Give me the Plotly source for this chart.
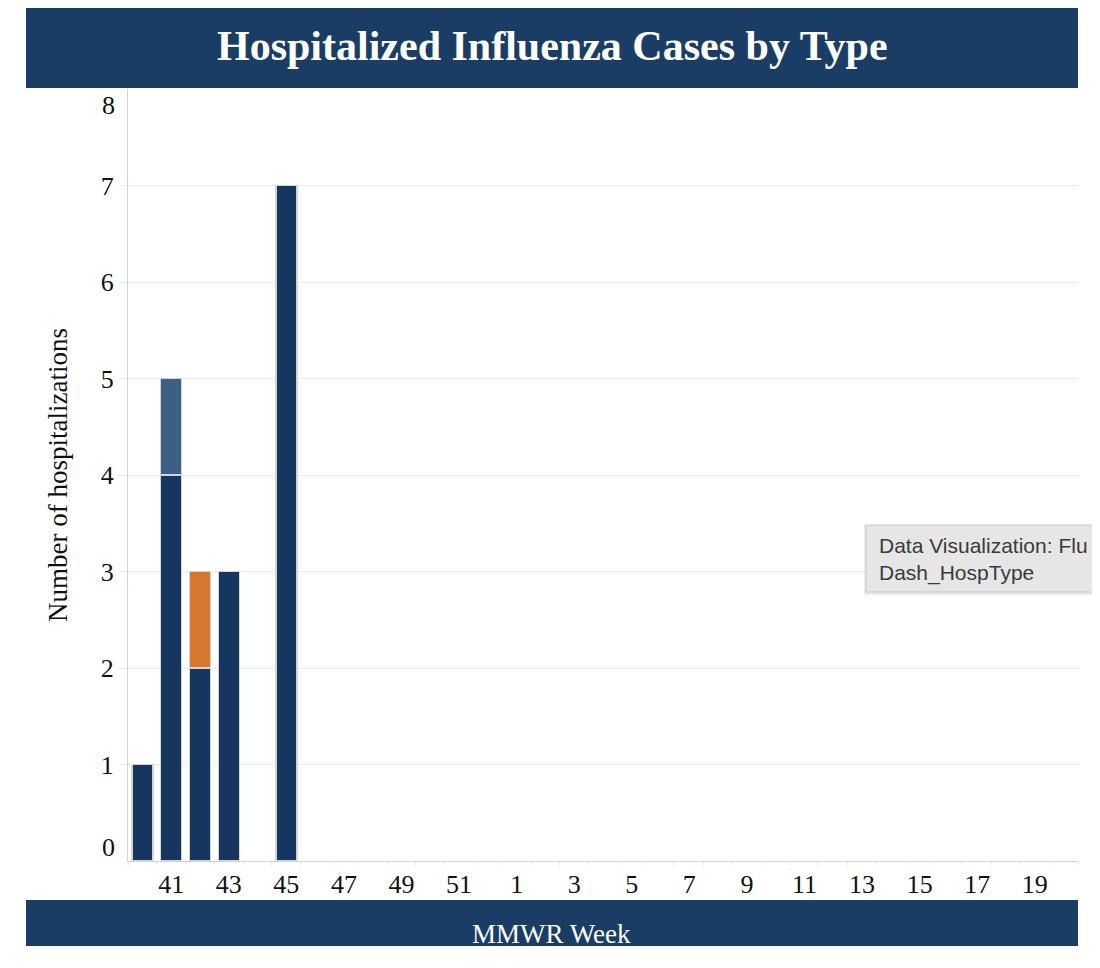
import plotly.graph_objects as go

# MMWR weeks of the season (40..52, then 1..20)
weeks = ["40", "41", "42", "43", "44", "45", "46", "47", "48", "49", "50", "51", "52",
         "1", "2", "3", "4", "5", "6", "7", "8", "9", "10", "11", "12", "13", "14",
         "15", "16", "17", "18", "19", "20"]
week_labels = ["", "41", "", "43", "", "45", "", "47", "", "49", "", "51", "",
               "1", "", "3", "", "5", "", "7", "", "9", "", "11", "", "13", "",
               "15", "", "17", "", "19", ""]

flu_a = [1, 4, 2, 3, None, 7, None, None, None, None, None, None, None,
         None, None, None, None, None, None, None, None, None, None, None, None, None, None,
         None, None, None, None, None, None]
flu_a_subtyped = [None, 1, None, None, None, None, None, None, None, None, None, None, None,
                  None, None, None, None, None, None, None, None, None, None, None, None, None, None,
                  None, None, None, None, None, None]
flu_b = [None, None, 1, None, None, None, None, None, None, None, None, None, None,
         None, None, None, None, None, None, None, None, None, None, None, None, None, None,
         None, None, None, None, None, None]

y_ticks = [1, 2, 3, 4, 5, 6, 7]

NAVY = "#1a3d66"
SERIF = "Liberation Serif, Times New Roman, serif"
TXT = "#111111"

W, H = 1084, 952
L, R, T, B = 120, 1070, 81, 853


def px(x):
    return (x - L) / (R - L)


def py(y):
    return (B - y) / (B - T)


fig = go.Figure()
outline = dict(color="#d4d4d4", width=1.5)
fig.add_trace(go.Bar(x=weeks, y=flu_a, name="Influenza A",
                     marker=dict(color="#16365f", line=outline)))
fig.add_trace(go.Bar(x=weeks, y=flu_a_subtyped, name="Influenza A (subtyped)",
                     marker=dict(color="#3e5f85", line=outline)))
fig.add_trace(go.Bar(x=weeks, y=flu_b, name="Influenza B",
                     marker=dict(color="#d8782f", line=outline)))

shapes = [
    # title band
    dict(type="rect", xref="paper", yref="paper", x0=px(18), x1=px(1070),
         y0=py(80), y1=py(0), fillcolor=NAVY, line_width=0, layer="above"),
    # bottom band
    dict(type="rect", xref="paper", yref="paper", x0=px(18), x1=px(1070),
         y0=py(938), y1=py(892), fillcolor=NAVY, line_width=0, layer="above"),
    # tooltip shadow + box
    dict(type="rect", xref="paper", yref="paper", x0=px(856), x1=px(1110),
         y0=py(587), y1=py(517), fillcolor="rgba(0,0,0,0.08)", line_width=0, layer="above"),
    dict(type="rect", xref="paper", yref="paper", x0=px(858), x1=px(1110),
         y0=py(584), y1=py(517), fillcolor="#e6e6e6",
         line=dict(color="#c9c9c9", width=1), layer="above"),
]

annotations = [
    dict(text="<b>Hospitalized Influenza Cases by Type</b>", xref="paper", yref="paper",
         x=px(544), y=py(38), showarrow=False, xanchor="center", yanchor="middle",
         font=dict(family=SERIF, size=42, color="white")),
    dict(text="MMWR Week", xref="paper", yref="paper",
         x=px(543), y=py(926), showarrow=False, xanchor="center", yanchor="middle",
         font=dict(family=SERIF, size=27, color="white")),
    dict(text="Number of hospitalizations", xref="paper", yref="paper",
         x=px(50), y=0.5, showarrow=False, textangle=-90,
         xanchor="center", yanchor="middle",
         font=dict(family=SERIF, size=27, color=TXT)),
    # end labels of the value axis, nudged inside like the original
    dict(text="0", xref="paper", yref="y", x=px(109), y=0, yshift=14,
         showarrow=False, xanchor="right", yanchor="middle",
         font=dict(family=SERIF, size=26, color=TXT)),
    dict(text="8", xref="paper", yref="y", x=px(109), y=8, yshift=-16,
         showarrow=False, xanchor="right", yanchor="middle",
         font=dict(family=SERIF, size=26, color=TXT)),
    dict(text="Data Visualization: Flu<br>Dash_HospType", xref="paper", yref="paper",
         x=px(869), y=py(551), showarrow=False, xanchor="left", yanchor="middle",
         align="left", font=dict(family="Liberation Sans, Arial, sans-serif", size=21,
                                 color="#3a3a3a")),
]

fig.update_layout(
    width=W, height=H,
    margin=dict(l=L, r=W - R, t=T, b=H - B),
    barmode="stack", bargap=0.27,
    plot_bgcolor="white", paper_bgcolor="white",
    showlegend=False,
    shapes=shapes, annotations=annotations,
    font=dict(family=SERIF, size=26, color=TXT),
    xaxis=dict(type="category", categoryorder="array", categoryarray=weeks,
               tickmode="array", tickvals=weeks, ticktext=week_labels, tickangle=0,
               tickson="boundaries", ticks="outside", ticklen=3, tickcolor="#e6e6e6",
               showline=True, linecolor="#d4d4d4", linewidth=1, showgrid=False,
               range=[-0.5, len(weeks) - 0.5],
               tickfont=dict(family=SERIF, size=26, color=TXT)),
    yaxis=dict(range=[0, 8], tickmode="array", tickvals=y_ticks,
               ticks="outside", ticklen=8, tickcolor="#ececec",
               showgrid=True, gridcolor="#ececec", gridwidth=1,
               showline=True, linecolor="#d4d4d4", linewidth=1, zeroline=False,
               tickfont=dict(family=SERIF, size=26, color=TXT)),
)

fig.write_html("out.html")
